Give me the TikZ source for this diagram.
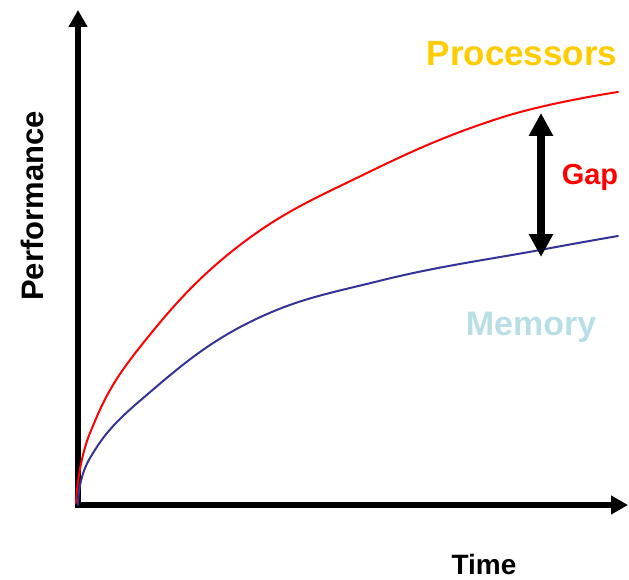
\documentclass[tikz,border=0pt]{standalone}
\usepackage{fontspec}
\setmainfont{Liberation Sans}
\usepackage{tikz}
\usepackage{xcolor}
\usetikzlibrary{arrows.meta}
\definecolor{proc}{HTML}{FFCC00}
\definecolor{mem}{HTML}{B7DFE5}
\definecolor{memline}{HTML}{333399}
\definecolor{procline}{HTML}{FF0000}
\tikzset{
  axis/.style={line width=6pt, -{Triangle[length=17pt,width=18pt]}},
  curve/.style={line width=2pt, line join=round, line cap=round},
  gaparrow/.style={line width=8pt, {Triangle[length=23pt,width=23pt]}-{Triangle[length=23pt,width=23pt]}},
  curvelabel/.style={inner sep=0pt, anchor=base, font=\bfseries}
}

\begin{document}
\begin{tikzpicture}[x=1pt,y=-1pt]
    \useasboundingbox (0,0) rectangle (629,580);
    % axes
    \coordinate (origin) at (78,508);
    \coordinate (ytip) at (78,10);
    \coordinate (xstart) at (75,505);
    \coordinate (xtip) at (628,505);
    \draw[axis] (origin) -- (ytip);
    \draw[axis] (xstart) -- (xtip);
    \node[curvelabel, rotate=90, font=\fontsize{31}{36}\selectfont\bfseries] (perf) at (43,206) {Performance};
    \node[curvelabel, font=\fontsize{28}{32}\selectfont\bfseries] (time) at (484,574) {Time};

    % processor and memory curves
    \draw[curve, procline] plot[smooth, tension=0.7] coordinates {(76,503) (90,433) (140,347)
      (240,245) (367,173) (500,118) (618,92)};
    \draw[curve, memline] plot[smooth, tension=0.7] coordinates {(78,505) (90,458) (142,399)
      (250,322) (383,280) (540,250) (618,236)};

    \node[curvelabel, text=proc, font=\fontsize{35}{40}\selectfont\bfseries] (processors) at (522,66) {Processors};
    \node[curvelabel, text=mem, font=\fontsize{34}{39}\selectfont\bfseries] (memory) at (531,335) {Memory};

    % gap
    \coordinate (gaptop) at (541,113);
    \coordinate (gapbot) at (541,257);
    \draw[gaparrow] (gaptop) -- (gapbot);
    \node[curvelabel, text=procline, font=\fontsize{29}{34}\selectfont\bfseries] (gap) at (590,185) {Gap};
\end{tikzpicture}
\end{document}
